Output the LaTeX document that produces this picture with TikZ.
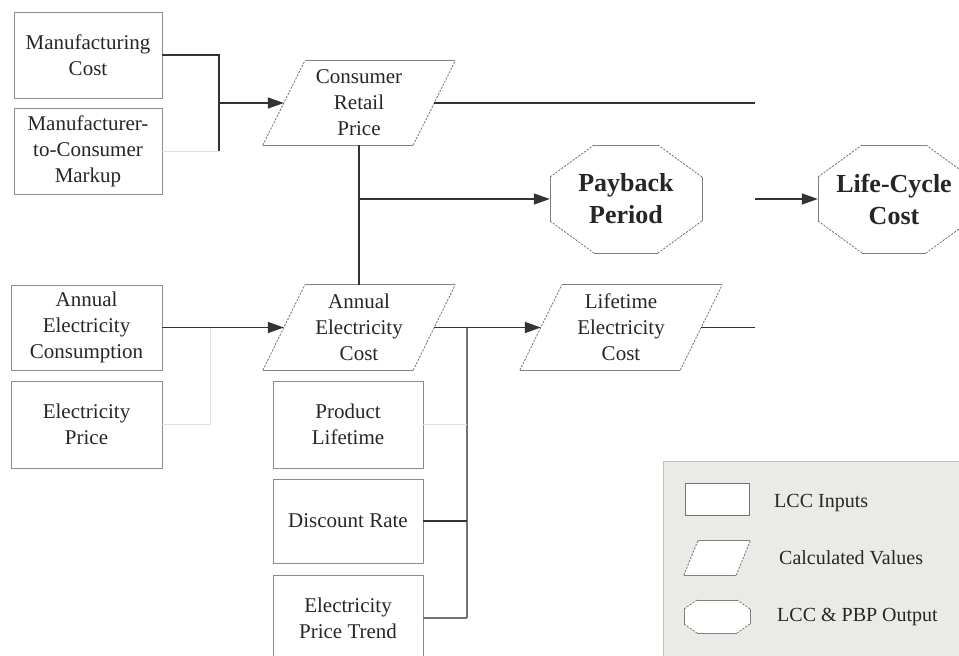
\documentclass[tikz,border=0pt]{standalone}
\usepackage{fontspec}
\setmainfont{Liberation Serif}
\usetikzlibrary{arrows.meta,calc}

\newcommand\drawpara[2]{%
  \draw[edge] ([xshift=#2]#1.north west) -- ([xshift=#2]#1.north east);
  \draw[edge] ([xshift=-#2]#1.south west) -- ([xshift=-#2]#1.south east);
  \draw[slantedge] ([xshift=-#2]#1.south west) -- ([xshift=#2]#1.north west);
  \draw[slantedge] ([xshift=-#2]#1.south east) -- ([xshift=#2]#1.north east);}
\newcommand\drawocta[5]{%
  \draw[edge] ([shift={(-#4,#3)}]#1.center) -- ([shift={(#4,#3)}]#1.center);
  \draw[edge] ([shift={(-#4,-#3)}]#1.center) -- ([shift={(#4,-#3)}]#1.center);
  \draw[edge] ([shift={(-#2,#5)}]#1.center) -- ([shift={(-#2,-#5)}]#1.center);
  \draw[edge] ([shift={(#2,#5)}]#1.center) -- ([shift={(#2,-#5)}]#1.center);
  \draw[slantedge] ([shift={(-#2,#5)}]#1.center) -- ([shift={(-#4,#3)}]#1.center);
  \draw[slantedge] ([shift={(#2,#5)}]#1.center) -- ([shift={(#4,#3)}]#1.center);
  \draw[slantedge] ([shift={(-#2,-#5)}]#1.center) -- ([shift={(-#4,-#3)}]#1.center);
  \draw[slantedge] ([shift={(#2,-#5)}]#1.center) -- ([shift={(#4,-#3)}]#1.center);}

\begin{document}
\begin{tikzpicture}[x=1pt,y=-1pt,
  txt/.style={font=\fontsize{21}{26}\selectfont, text=black!85, align=center},
  inbox/.style={txt, draw=black!45, line width=0.9pt, minimum width=150pt, minimum height=86pt, inner sep=0pt},
  calc/.style={txt, minimum width=150pt, minimum height=85pt, inner sep=0pt},
  outp/.style={font=\bfseries\fontsize{26}{32}\selectfont, text=black!85, align=center, minimum width=152pt, minimum height=108pt, inner sep=0pt},
  edge/.style={draw=black!50, line width=0.8pt},
  slantedge/.style={draw=black!55, line width=0.8pt, dash pattern=on 2.2pt off 1.3pt},
  conn/.style={draw=black!80, line width=1.4pt},
  midconn/.style={draw=black!55, line width=1.2pt},
  faint/.style={draw=black!12, line width=0.9pt},
  arr/.style={conn, -{Triangle[length=16pt,width=11pt]}},
  legtxt/.style={font=\fontsize{20}{24}\selectfont, text=black!85, anchor=west, inner sep=0pt}]
\useasboundingbox (0,0) rectangle (959,656);
\clip (0,0) rectangle (959,656);

% legend background
\fill[fill={rgb,255:red,234;green,234;blue,230}] (663,461) rectangle (965,665);
\draw[black!25, line width=0.8pt] (663,665) -- (663,461) -- (965,461);

% input boxes
\node[inbox, minimum width=148pt] (mc) at (88,55) {Manufacturing\\Cost};
\node[inbox, minimum width=148pt] (mk) at (88,151) {Manufacturer-\\to-Consumer\\Markup};
\node[inbox, minimum width=151pt, minimum height=85pt] (ac) at (86.5,327.5) {Annual\\Electricity\\Consumption};
\node[inbox, minimum width=151pt, minimum height=87pt] (ep) at (86.5,424.5) {Electricity\\Price};
\node[inbox, minimum height=87pt] (pl) at (348,424.5) {Product\\Lifetime};
\node[inbox, minimum height=84pt] (dr) at (348,521) {Discount Rate};
\node[inbox, minimum height=86pt] (pt) at (348,618) {Electricity\\Price Trend};

% calculated values
\node[calc, minimum height=84pt] (crp) at (359,103) {Consumer\\Retail\\Price};
\drawpara{crp}{21pt}
\node[calc] (aec) at (359,327.5) {Annual\\Electricity\\Cost};
\drawpara{aec}{21pt}
\node[calc, minimum width=160pt] (lec) at (621,327.5) {Lifetime\\Electricity\\Cost};
\drawpara{lec}{21pt}

% outputs
\node[outp] (pbp) at (626,199) {Payback\\Period};
\drawocta{pbp}{76pt}{54pt}{32pt}{22pt}
\node[outp] (lcc) at (894,199) {Life-Cycle\\Cost};
\drawocta{lcc}{76pt}{54pt}{32pt}{22pt}

% connectors
\coordinate (j1) at (219,103);
\draw[conn] (mc.east) -| (j1);
\draw[conn] (j1) -- (j1 |- mk.east);
\draw[faint] (mk.east) -- (j1 |- mk.east);
\draw[arr] (j1) -- (crp.west);

\coordinate (e1) at (755,103);
\draw[conn] (crp.east) -- (e1);

\coordinate (j2) at (359,199);
\draw[conn] (crp.south) -- (aec.north);
\draw[arr] (j2) -- (pbp.west);
\coordinate (e2) at (755,199);
\draw[arr] (e2) -- (lcc.west);

\coordinate (j4) at (210,328);
\draw[arr] (ac.east) -- (aec.west);
\draw[faint] (ep.east) -| (j4);

\coordinate (j3) at (467,327.5);
\draw[arr] (aec.east) -- (lec.west);
\draw[midconn] (j3) -- (j3 |- pt.east);
\draw[faint] (pl.east) -- (j3 |- pl.east);
\draw[conn] (dr.east) -- (j3 |- dr.east);
\draw[midconn] (pt.east) -- (j3 |- pt.east);

\coordinate (e3) at (755,327.5);
\draw[conn] (lec.east) -- (e3);

% legend
\node[draw=black!55, line width=0.9pt, fill=white, minimum width=64pt, minimum height=32pt, inner sep=0pt] (lg1) at (717,499) {};
\node[minimum width=52pt, minimum height=34pt, inner sep=0pt] (lg2) at (717,558) {};
\fill[white] ([xshift=7pt]lg2.north west) -- ([xshift=7pt]lg2.north east) -- ([xshift=-7pt]lg2.south east) -- ([xshift=-7pt]lg2.south west) -- cycle;
\drawpara{lg2}{7pt}
\node[minimum width=66pt, minimum height=33pt, inner sep=0pt] (lg3) at (717,616.5) {};
\fill[white] ([shift={(-33pt,7.5pt)}]lg3.center) -- ([shift={(-20pt,16.5pt)}]lg3.center) -- ([shift={(20pt,16.5pt)}]lg3.center) -- ([shift={(33pt,7.5pt)}]lg3.center) -- ([shift={(33pt,-7.5pt)}]lg3.center) -- ([shift={(20pt,-16.5pt)}]lg3.center) -- ([shift={(-20pt,-16.5pt)}]lg3.center) -- ([shift={(-33pt,-7.5pt)}]lg3.center) -- cycle;
\drawocta{lg3}{33pt}{16.5pt}{20pt}{7.5pt}
\node[legtxt] (t1) at (774,503) {LCC Inputs};
\node[legtxt] (t2) at (779,558) {Calculated Values};
\node[legtxt] (t3) at (777,617) {LCC \& PBP Output};
\end{tikzpicture}
\end{document}
